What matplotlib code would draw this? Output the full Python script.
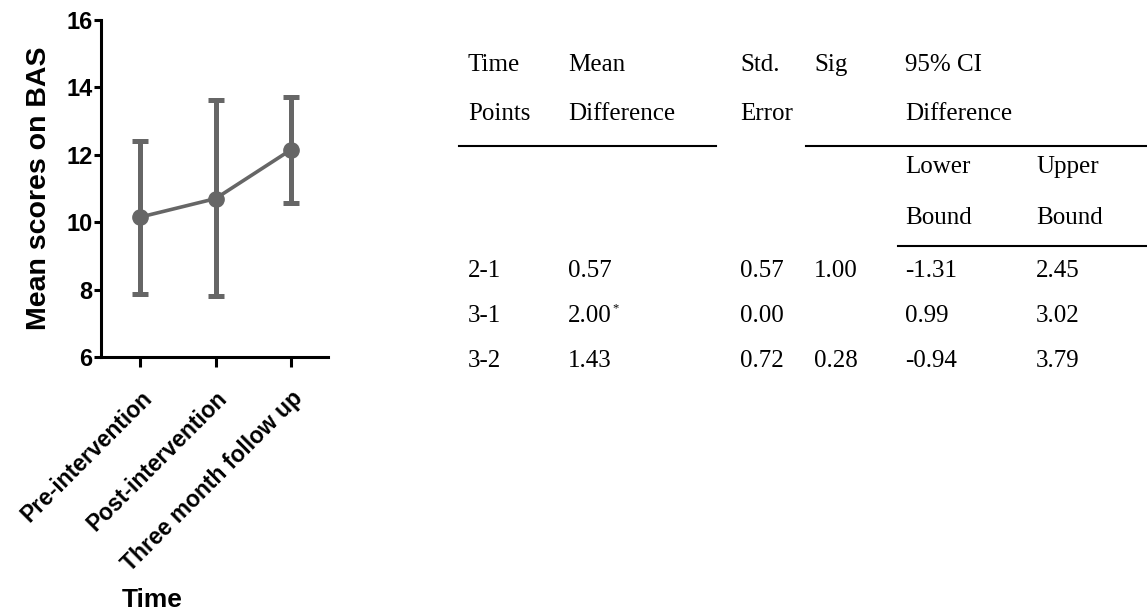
import matplotlib
matplotlib.use("Agg")
import matplotlib.pyplot as plt

# chart data
time_points = ["Pre-intervention", "Post-intervention", "Three month follow up"]
mean_bas = [10.15, 10.70, 12.15]
upper_bas = [12.42, 13.62, 13.72]
lower_bas = [7.86, 7.82, 10.58]

# pairwise comparison table
comparisons = ["2-1", "3-1", "3-2"]
mean_diff = ["0.57", "2.00", "1.43"]
diff_star = ["", "*", ""]
std_error = ["0.57", "0.00", "0.72"]
sig = ["1.00", "", "0.28"]
ci_lower = ["-1.31", "0.99", "-0.94"]
ci_upper = ["2.45", "3.02", "3.79"]

W, H = 1147, 613
fig = plt.figure(figsize=(W / 100, H / 100), dpi=100)

sans = "Liberation Sans"
serif = "Liberation Serif"
grey = "#666666"

# --- left chart ---
ax = fig.add_axes([101 / W, 1 - 357 / H, (328 - 101) / W, (357 - 20) / H])
x = list(range(len(time_points)))
yerr = [[m - lo for m, lo in zip(mean_bas, lower_bas)],
        [up - m for m, up in zip(mean_bas, upper_bas)]]
ax.errorbar(x, mean_bas, yerr=yerr, color=grey, ecolor=grey, elinewidth=3.6,
            capsize=6, capthick=3.6, lw=2.6, marker="o", ms=11)
ax.set_xlim(-0.517, 2.49)
ax.set_ylim(6, 16)
ax.set_yticks([6, 8, 10, 12, 14, 16])
ax.set_xticks(x)
ax.set_xticklabels(time_points, rotation=45, ha="right", rotation_mode="anchor",
                   fontsize=16.5, fontweight="bold", family=sans)
for lab in ax.get_yticklabels():
    lab.set_fontsize(17)
    lab.set_fontweight("bold")
    lab.set_family(sans)
for s in ["top", "right"]:
    ax.spines[s].set_visible(False)
for s in ["left", "bottom"]:
    ax.spines[s].set_linewidth(2.2)
ax.tick_params(axis="y", length=5, width=2.2, pad=1)
ax.tick_params(axis="x", length=7, width=2.2, pad=14)
ax.set_ylabel("Mean scores on BAS", fontsize=20.5, fontweight="bold",
              family=sans, labelpad=10)
fig.text(152 / W, 1 - 600 / H, "Time", fontsize=19, fontweight="bold",
         family=sans, ha="center", va="center")

# --- table ---
tx = fig.add_axes([0, 0, 1, 1])
tx.set_xlim(0, W)
tx.set_ylim(H, 0)
tx.axis("off")

fs = 18
cols = [468, 568, 740, 814, 905, 1036]
header1 = ["Time", "Mean", "Std.", "Sig", "95% CI", ""]
header2 = ["Points", "Difference", "Error", "", "Difference", ""]
header3 = ["", "", "", "", "Lower", "Upper"]
header4 = ["", "", "", "", "Bound", "Bound"]
header_base = [71, 120, 173, 224]
for yb, row in zip(header_base, [header1, header2, header3, header4]):
    for cx, t in zip(cols, row):
        tx.text(cx, yb, t, family=serif, fontsize=fs, ha="left", va="baseline")

row_base = [277, 322, 367]
for i, yb in enumerate(row_base):
    vals = [comparisons[i], mean_diff[i], std_error[i], sig[i], ci_lower[i], ci_upper[i]]
    for cx, t in zip(cols, vals):
        tx.text(cx, yb, t, family=serif, fontsize=fs, ha="left", va="baseline")
    if diff_star[i]:
        tx.text(cols[1] + 44, yb - 11, diff_star[i], family=serif, fontsize=9,
                ha="left", va="baseline")

tx.plot([459, 716], [146, 146], color="black", lw=1.5)
tx.plot([806, 1147], [146, 146], color="black", lw=1.5)
tx.plot([898, 1147], [246, 246], color="black", lw=1.5)

fig.savefig("out.png", dpi=100)
